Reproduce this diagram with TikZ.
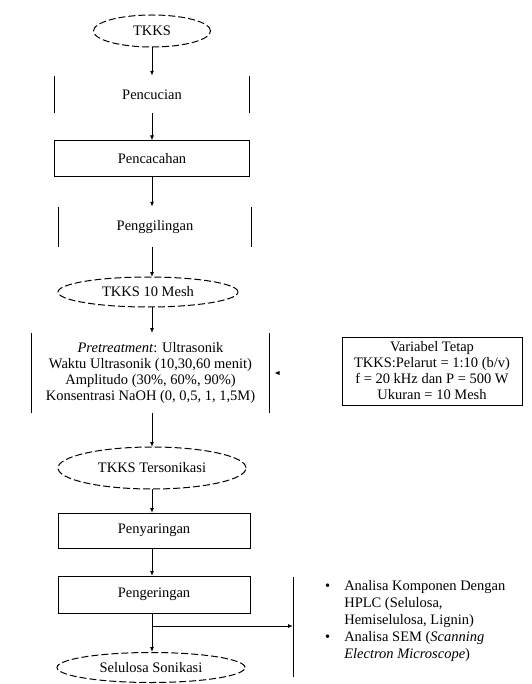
\documentclass[tikz,border=0pt]{standalone}
\usepackage{fontspec}
\setmainfont{Liberation Serif}
\usetikzlibrary{shapes.geometric,arrows.meta}
\tikzset{
  arr/.style={draw, -{Latex[length=5pt,width=4pt]}, line width=1pt},
  oval/.style={ellipse, draw, dash pattern=on 7pt off 3pt, line width=1pt, inner sep=0pt},
  boxed/.style={rectangle, draw, line width=1pt, inner sep=0pt},
  bare/.style={rectangle, inner sep=0pt},
  txt/.style={font=\fontsize{14.5}{16}\selectfont, align=center},
  side/.style={line width=1pt}
}
\begin{document}
\begin{tikzpicture}[x=1pt,y=-1pt]
\useasboundingbox (0,0) rectangle (531,684);
% main column
\node[oval,txt,minimum width=117pt,minimum height=32pt] (tkks) at (152,31) {TKKS};
\node[bare,txt,minimum width=194pt,minimum height=37pt] (cuci) at (152,94.5) {Pencucian};
\node[boxed,txt,minimum width=195pt,minimum height=36pt] (cacah) at (152,159) {Pencacahan};
\node[bare,txt,minimum width=192pt,minimum height=40pt] (giling) at (155,227) {Penggilingan};
\node[oval,txt,minimum width=180pt,minimum height=30pt] (mesh) at (148,292) {TKKS 10 Mesh};
\node[bare,txt,minimum width=237pt,minimum height=80pt] (pre) at (150.5,373)
  {\textit{Pretreatment}: Ultrasonik\\Waktu Ultrasonik (10,30,60 menit)\\Amplitudo (30\%, 60\%, 90\%)\\Konsentrasi NaOH (0, 0,5, 1, 1,5M)};
\node[oval,txt,minimum width=188pt,minimum height=42pt] (son) at (152,468) {TKKS Tersonikasi};
\node[boxed,txt,minimum width=192pt,minimum height=35pt] (saring) at (154,530.5) {Penyaringan};
\node[boxed,txt,minimum width=192pt,minimum height=37pt] (kering) at (154,594.5) {Pengeringan};
\node[oval,txt,minimum width=188pt,minimum height=30pt] (sel) at (151,667.5) {Selulosa Sonikasi};
% variabel tetap
\node[boxed,txt,minimum width=180pt,minimum height=68pt] (var) at (432,371)
  {Variabel Tetap\\TKKS:Pelarut = 1:10 (b/v)\\f = 20 kHz dan P = 500 W\\Ukuran = 10 Mesh};
% side lines of open boxes
\draw[side] (cuci.north west) -- (cuci.south west) (cuci.north east) -- (cuci.south east);
\draw[side] (giling.north west) -- (giling.south west) (giling.north east) -- (giling.south east);
\draw[side] (pre.north west) -- (pre.south west) (pre.north east) -- (pre.south east);
% connectors
\draw[arr] (tkks.south) -- (tkks.south |- cuci.north);
\draw[arr] (cuci.south) -- (cuci.south |- cacah.north);
\draw[arr] (cacah.south) -- (cacah.south |- giling.north);
\draw[arr] (152,247) -- (152,277);
\draw[arr] (152,307) -- (152,333);
\draw[arr] (152,413) -- (152,447);
\draw[arr] (152,489) -- (152,513);
\draw[arr] (152,548) -- (152,576);
\draw[arr] (152,613) -- (152,652);
% variabel arrowhead
\coordinate (vt1) at (284,373);
\coordinate (vt2) at (275,373);
\fill (vt2) -- ++(4.5,-2) -- ++(0,4) -- cycle;
% analysis list
\coordinate (lt) at (293,577);
\coordinate (lb) at (293,677);
\coordinate (br) at (152,626);
\draw[side] (lt) -- (lb);
\draw[arr] (br) -- (br -| lt);
\node[anchor=west,inner sep=0pt,font=\fontsize{14.5}{17}\selectfont] (list) at (325,621)
  {\begin{tabular}{@{}l@{\hspace{14pt}}l@{}}
   \textbullet & Analisa Komponen Dengan\\
   & HPLC (Selulosa,\\
   & Hemiselulosa, Lignin)\\
   \textbullet & Analisa SEM (\textit{Scanning}\\
   & \textit{Electron Microscope})
   \end{tabular}};
\end{tikzpicture}
\end{document}
